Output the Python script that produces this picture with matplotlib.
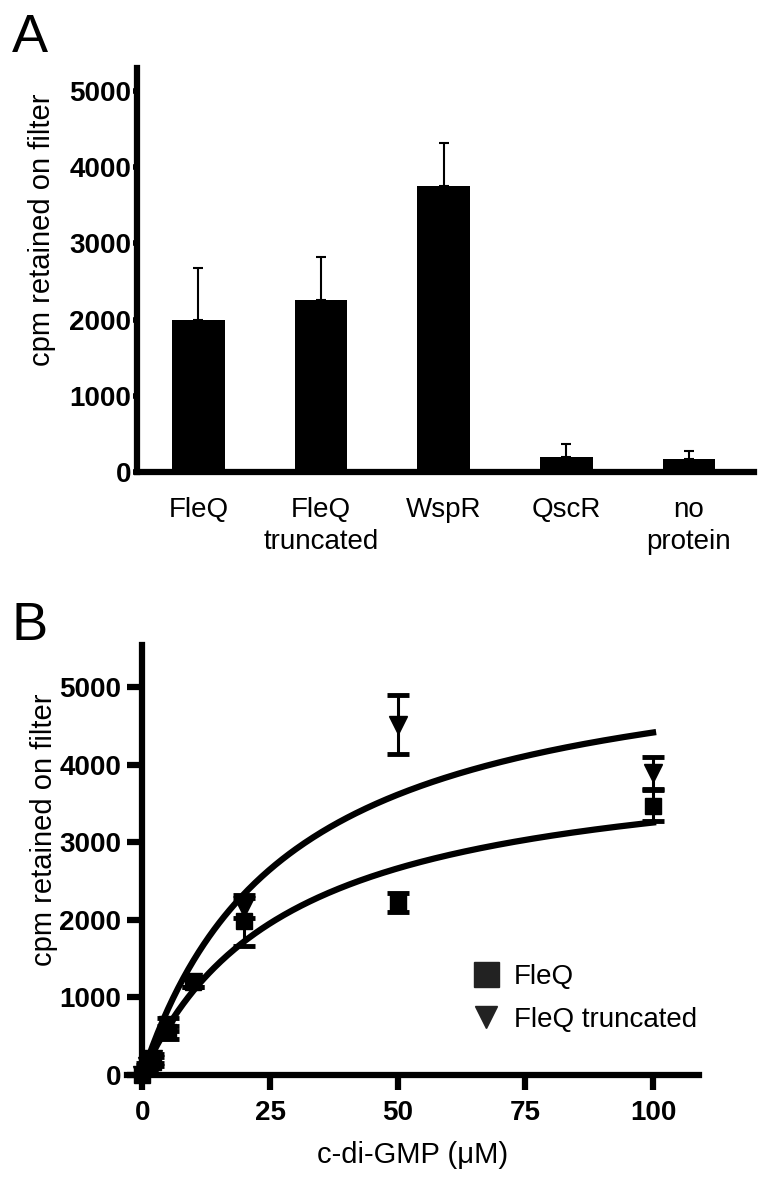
import matplotlib.pyplot as plt
from matplotlib.lines import Line2D
import numpy as np

# panel A - filter binding, single concentration
proteins = ['FleQ', 'FleQ\ntruncated', 'WspR', 'QscR', 'no\nprotein']
cpm_mean = [2000, 2250, 3750, 195, 170]
cpm_err = [680, 570, 570, 175, 105]

# panel B - titration with c-di-GMP
conc = [0, 1, 2, 5, 10, 20, 50, 100]
fleq = [0, 90, 170, 550, 1200, 1990, 2220, 3470]
fleq_err = [0, 40, 60, 80, 60, 330, 125, 200]
trunc = [0, 110, 210, 650, 1200, 2150, 4510, 3890]
trunc_err = [0, 40, 60, 80, 60, 130, 380, 205]

# one-site binding fits (Bmax, Kd)
fleq_fit = (4180, 28.5)
trunc_fit = (5670, 28.5)

W, H = 769, 1185
fig = plt.figure(figsize=(W / 100, H / 100), dpi=100)

tickfont = {'family': ['Liberation Sans', 'DejaVu Sans'], 'weight': 'bold', 'size': 20}
textfont = ['Liberation Sans', 'DejaVu Sans']


def px_axes(l, t, r, b):
    return fig.add_axes([l / W, 1 - b / H, (r - l) / W, (b - t) / H])


# ---------- A ----------
axA = px_axes(137, 68, 754, 472)
x = np.arange(len(proteins))
axA.bar(x, cpm_mean, width=0.43, color='black', zorder=2)
axA.errorbar(x, cpm_mean, yerr=[np.zeros(len(x)), cpm_err], fmt='none',
             ecolor='black', elinewidth=1.5, capsize=3.5, capthick=1.5, zorder=1)
axA.set_xlim(-0.5, 4.53)
axA.set_ylim(0, 5300)
axA.set_yticks(range(0, 5001, 1000))
axA.set_xticks(x)
axA.set_xticklabels(proteins, family=textfont, size=20, linespacing=1.3)
for lab in axA.get_yticklabels():
    lab.set_fontproperties(tickfont)
axA.tick_params(axis='x', length=0, pad=18)
axA.tick_params(axis='y', length=3, width=4, pad=1)
for s in ['top', 'right']:
    axA.spines[s].set_visible(False)
for s in ['left', 'bottom']:
    axA.spines[s].set_linewidth(4.5)
axA.set_ylabel('cpm retained on filter', family=textfont, size=21)
axA.yaxis.set_label_coords((56 - 137) / 617, 0.60)
fig.text(12 / W, 1 - 52 / H, 'A', family=textfont, size=39)

# ---------- B ----------
axB = px_axes(127, 645, 699, 1075)
xx = np.linspace(0, 100, 300)
axB.plot(xx, fleq_fit[0] * xx / (fleq_fit[1] + xx), color='black', lw=4.5)
axB.plot(xx, trunc_fit[0] * xx / (trunc_fit[1] + xx), color='black', lw=4.5)
axB.errorbar(conc, fleq, yerr=fleq_err, fmt='s', color='black', ms=12,
             elinewidth=2.2, capsize=8, capthick=3.5, clip_on=False)
axB.errorbar(conc, trunc, yerr=trunc_err, fmt='v', color='black', ms=13,
             elinewidth=2.2, capsize=8, capthick=3.5, clip_on=False)
axB.set_xlim(-3, 109)
axB.set_ylim(0, 5540)
axB.spines['left'].set_position(('data', 0))
axB.set_xticks([0, 25, 50, 75, 100])
axB.set_yticks(range(0, 5001, 1000))
for lab in axB.get_xticklabels() + axB.get_yticklabels():
    lab.set_fontproperties(tickfont)
axB.tick_params(length=11, width=4.5, pad=4)
axB.tick_params(axis='x', pad=7)
for s in ['top', 'right']:
    axB.spines[s].set_visible(False)
for s in ['left', 'bottom']:
    axB.spines[s].set_linewidth(4.5)
axB.set_xlabel('c-di-GMP (μM)', family=textfont, size=21, labelpad=11)
axB.set_ylabel('cpm retained on filter', family=textfont, size=21)
axB.yaxis.set_label_coords((58 - 127) / 572, 0.57)

handles = [Line2D([], [], ls='none', marker='s', ms=18, color='#222222'),
           Line2D([], [], ls='none', marker='v', ms=16, color='#222222')]
axB.legend(handles, ['FleQ', 'FleQ truncated'], loc='upper left',
           bbox_to_anchor=(458 / W, 1 - 950 / H), bbox_transform=fig.transFigure,
           frameon=False, prop={'family': textfont, 'size': 20}, handlelength=1.0,
           handletextpad=0.5, labelspacing=0.6, borderpad=0)
fig.text(12 / W, 1 - 640 / H, 'B', family=textfont, size=39)

fig.savefig('out.png', dpi=100)
